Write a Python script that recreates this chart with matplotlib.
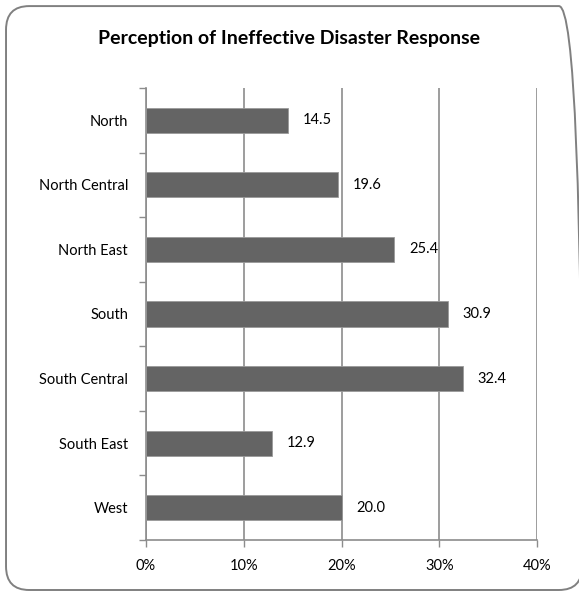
import matplotlib.pyplot as plt
from matplotlib.patches import FancyBboxPatch
from matplotlib.ticker import FuncFormatter

# regions and share of respondents (%)
regions = ['North', 'North Central', 'North East', 'South',
           'South Central', 'South East', 'West']
values = [14.5, 19.6, 25.4, 30.9, 32.4, 12.9, 20.0]
labels = ['14.5', '19.6', '25.4', '30.9', '32.4', '12.9', '20.0']

plt.rcParams['font.family'] = ['Lato', 'DejaVu Sans']

fig = plt.figure(figsize=(5.79, 5.91), dpi=100)
ax = fig.add_axes([0.2522, 0.0863, 0.6753, 0.7648])

# rounded frame around the whole chart
frame = FancyBboxPatch((0.0104, 0.0017), 0.995, 0.988,
                       boxstyle='round,pad=0,rounding_size=0.04',
                       transform=fig.transFigure, facecolor='none',
                       edgecolor='#808080', linewidth=1.4, clip_on=False)
fig.patches.append(frame)

ypos = range(len(regions))
ax.barh(ypos, values, height=0.39, color='#646464',
        edgecolor='#9a9a9a', linewidth=0.6, zorder=3)
for y, v, t in zip(ypos, values, labels):
    ax.text(v + 1.5, y, t, va='center', ha='left', fontsize=10.5)

ax.set_xlim(0, 40)
ax.set_ylim(len(regions) - 0.5, -0.5)
ax.set_xticks([0, 10, 20, 30, 40])
ax.xaxis.set_major_formatter(FuncFormatter(lambda x, p: f'{x:.0f}%'))
ax.set_yticks(list(ypos))
ax.set_yticklabels(regions)
ax.set_yticks([i - 0.5 for i in range(len(regions) + 1)], minor=True)

ax.tick_params(axis='y', which='major', length=0, pad=13, labelsize=10.5)
ax.tick_params(axis='y', which='minor', length=5, color='#8c8c8c', width=1)
ax.tick_params(axis='x', length=5, color='#8c8c8c', width=1, labelsize=10.5, pad=9)

ax.grid(axis='x', color='#8c8c8c', linewidth=1.2, zorder=0)
for s in ['top', 'right']:
    ax.spines[s].set_visible(False)
for s in ['left', 'bottom']:
    ax.spines[s].set_color('#8c8c8c')
    ax.spines[s].set_linewidth(1.2)

fig.text(0.5, 0.935, 'Perception of Ineffective Disaster Response',
         ha='center', va='center', fontsize=14, fontweight='bold')

plt.savefig('out.png', dpi=100)
